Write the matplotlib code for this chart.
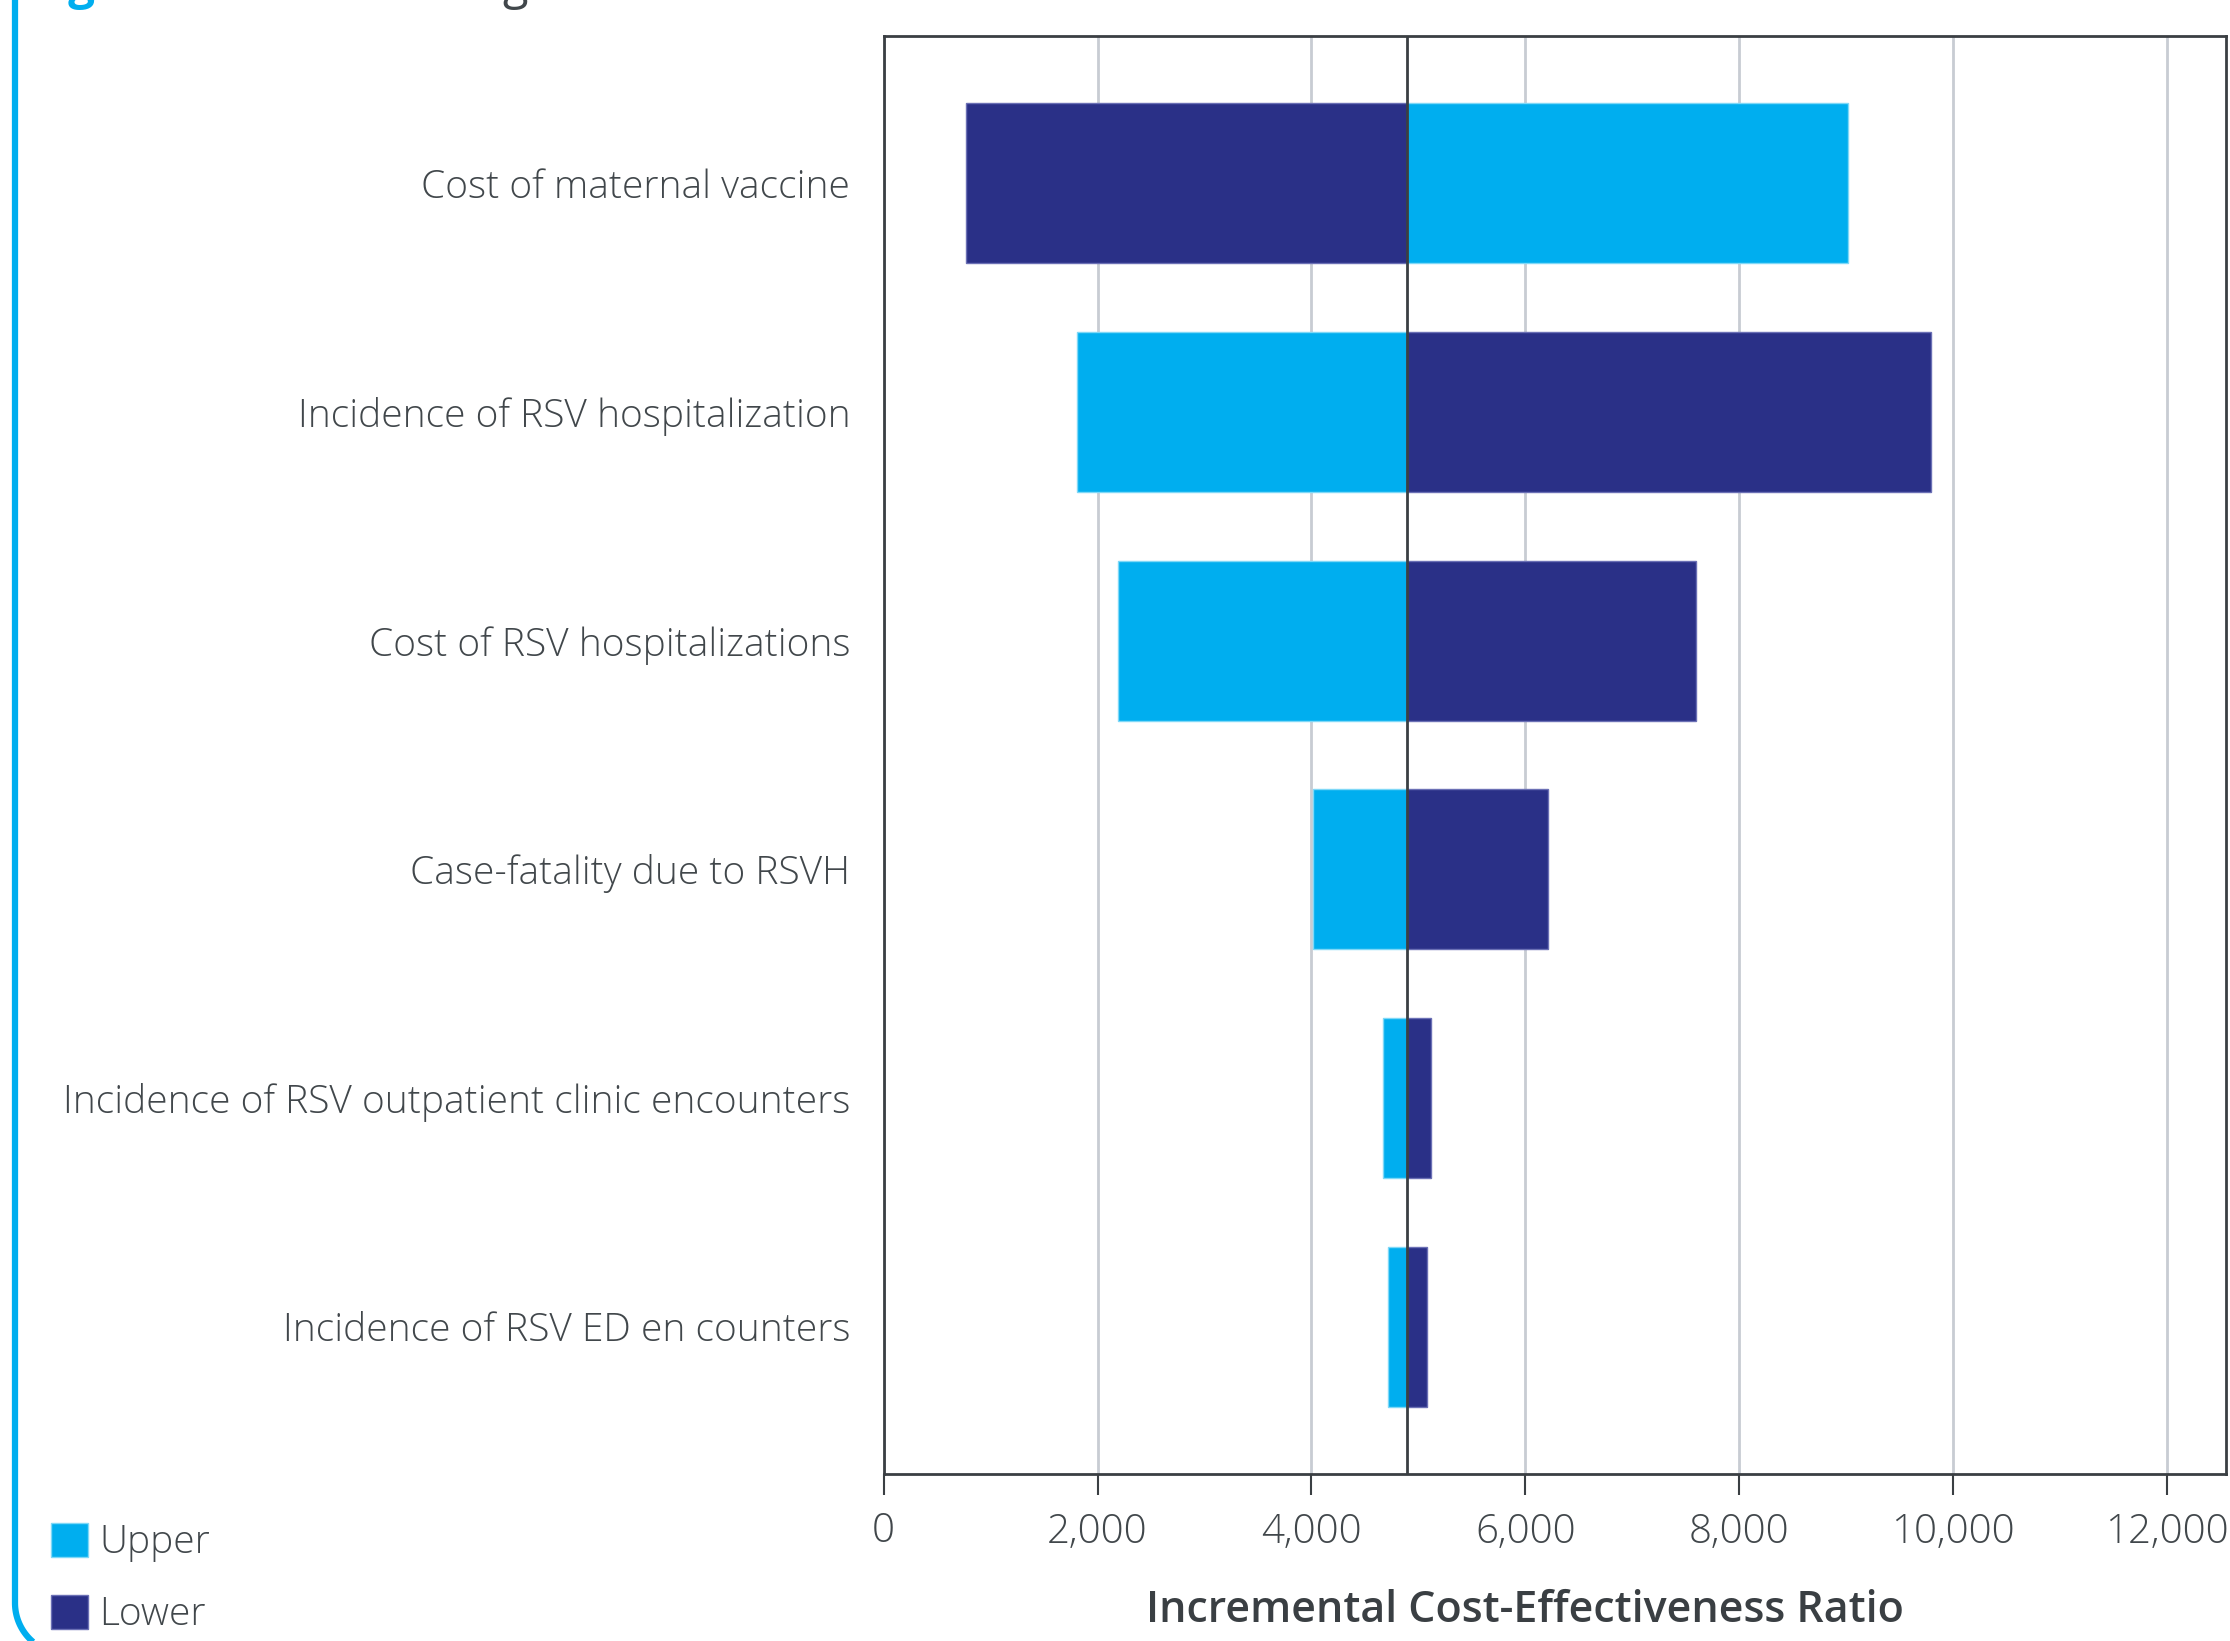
import numpy as np
import matplotlib.pyplot as plt
from matplotlib.patches import Patch

# tornado data (ICER at the upper / lower value of each parameter)
params = [
    "Cost of maternal vaccine",
    "Incidence of RSV hospitalization",
    "Cost of RSV hospitalizations",
    "Case-fatality due to RSVH",
    "Incidence of RSV outpatient clinic encounters",
    "Incidence of RSV ED en counters",
]
upper_icer = [9019, 1806, 2191, 4011, 4670, 4717]
lower_icer = [766, 9788, 7596, 6215, 5120, 5080]
base_icer = 4890
xticks = [0, 2000, 4000, 6000, 8000, 10000, 12000]

upper_col = "#00AEEF"
lower_col = "#2A3087"
text_col = "#41474B"
font = "Open Sans"

W, H = 2230, 1641
fig = plt.figure(figsize=(W / 100, H / 100), dpi=100)

# background layer in pixel coords for the frame and cut title
bg = fig.add_axes([0, 0, 1, 1], zorder=-1)
bg.set_xlim(0, W)
bg.set_ylim(H, 0)
bg.axis("off")
t = np.linspace(0, np.pi / 2, 50)
fx = np.concatenate([[15, 15], 66 - 51 * np.cos(t)])
fy = np.concatenate([[-10, 1603], 1603 + 51 * np.sin(t)])
bg.plot(fx, fy, color=upper_col, lw=4.5, solid_capstyle="butt")
bg.text(28, -1, "Figure 2", color=upper_col, fontsize=34, fontweight="bold",
        family=font, va="baseline", ha="left")
bg.text(232, -1, "Tornado Diagram", color=text_col, fontsize=34,
        family=font, va="baseline", ha="left")

ax = fig.add_axes([883.6 / W, 1 - 1474 / H, (2226 - 883.6) / W, (1474 - 36) / H])

y = np.arange(len(params))
for i in range(len(params)):
    u, l = upper_icer[i], lower_icer[i]
    ax.barh(y[i], u - base_icer, left=base_icer, height=0.7, color=upper_col,
            edgecolor="#7FD8F7", linewidth=1, zorder=3)
    ax.barh(y[i], l - base_icer, left=base_icer, height=0.7, color=lower_col,
            edgecolor="#6B70B5", linewidth=1, zorder=3)

ax.axvline(base_icer, color="#3A3F43", lw=2, zorder=4)

ax.set_xlim(0, 12550)
ax.set_ylim(len(params) - 0.355, -0.645)
ax.set_xticks(xticks)
ax.set_xticklabels([f"{v:,}" for v in xticks], fontsize=29, color=text_col,
                   family=font, fontweight="light")
ax.set_yticks(y)
ax.set_yticklabels(params, fontsize=28, color=text_col, family=font,
                   fontweight="light")
ax.tick_params(axis="y", length=0, pad=24)
ax.tick_params(axis="x", length=15, width=1.5, color="#3A3F43", pad=12)
ax.grid(axis="x", color="#C8CCD3", lw=2, zorder=0)
ax.set_axisbelow(True)
for s in ax.spines.values():
    s.set_color("#3A3F43")
    s.set_linewidth(2)

fig.text(1525 / W, 1 - 1622 / H, "Incremental Cost-Effectiveness Ratio",
         ha="center", va="baseline", fontsize=31, fontweight="semibold",
         color="#3A3F43", family=font)

handles = [Patch(facecolor=upper_col, edgecolor="#7FD8F7", label="Upper"),
           Patch(facecolor=lower_col, edgecolor="#6B70B5", label="Lower")]
leg = fig.legend(handles=handles, loc="upper left", bbox_to_anchor=(16 / W, 1 - 1488 / H),
                 frameon=False, handlelength=0.95, handleheight=0.95, handletextpad=0.3,
                 labelspacing=0.85, prop={"family": font, "size": 28, "weight": "light"})
for txt in leg.get_texts():
    txt.set_color(text_col)

fig.savefig("out.png", dpi=100)
